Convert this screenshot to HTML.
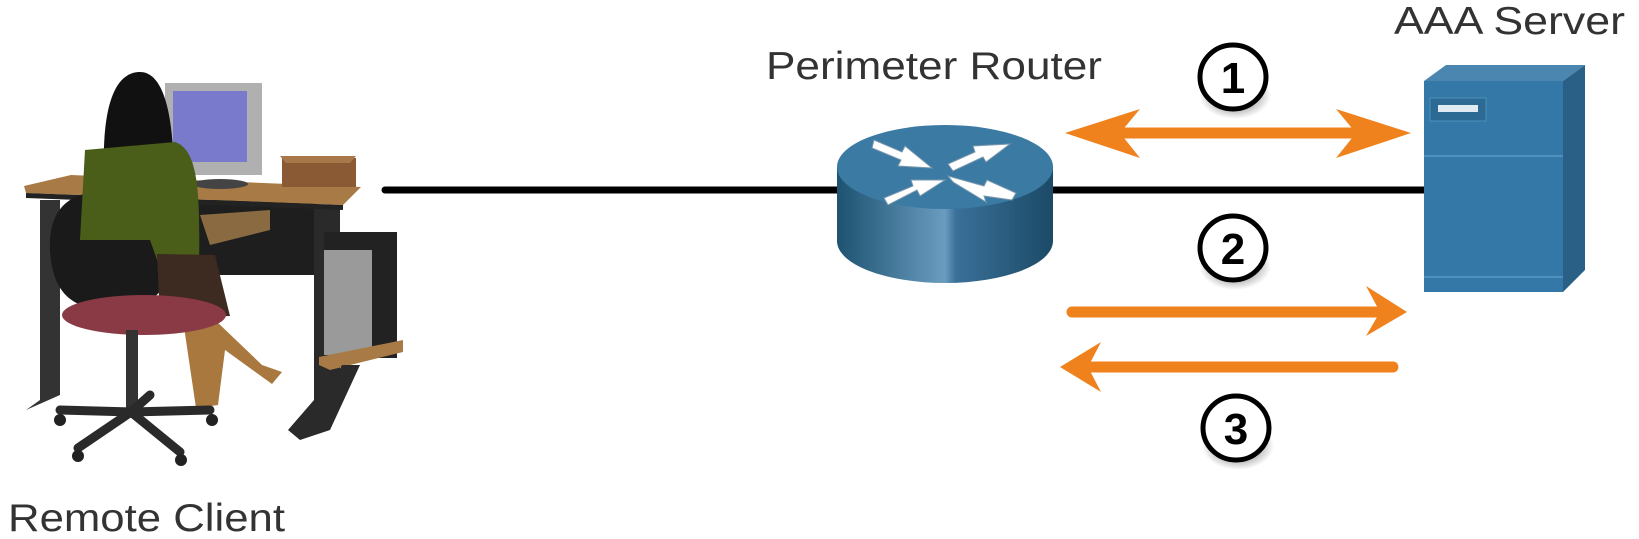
<!DOCTYPE html>
<html><head><meta charset="utf-8"><style>
html,body{margin:0;padding:0;background:#fff;}
svg{display:block;}
text{font-family:"Liberation Sans",sans-serif;fill:#333;}
</style></head><body>
<svg width="1639" height="539" viewBox="0 0 1639 539" xmlns="http://www.w3.org/2000/svg">
<defs>
<linearGradient id="rs" x1="0" x2="1" y1="0" y2="0">
<stop offset="0" stop-color="#1d5270"/><stop offset="0.5" stop-color="#6a9cc0"/><stop offset="0.55" stop-color="#3a7099"/><stop offset="1" stop-color="#1b4a66"/>
</linearGradient>
<radialGradient id="sh" cx="0.5" cy="0.5" r="0.5"><stop offset="0" stop-color="#000" stop-opacity="0.7"/><stop offset="1" stop-color="#000" stop-opacity="0"/></radialGradient>
</defs>
<!-- cables -->
<line x1="385" y1="190" x2="840" y2="190" stroke="#000" stroke-width="7" stroke-linecap="round"/>
<line x1="1050" y1="190" x2="1425" y2="190" stroke="#000" stroke-width="7"/>

<!-- person/desk illustration -->
<polygon points="26,410 60,395 60,200 40,200 40,400" fill="#333"/>
<rect x="188" y="200" width="130" height="75" fill="#1e1e1e"/>
<polygon points="314,206 340,206 340,400 300,440 288,430 314,400" fill="#2a2a2a"/>
<polygon points="24,186 71,175 361,187 343,205 26,193" fill="#a87a45"/>
<polygon points="26,193 343,205 343,210 26,198" fill="#222"/>
<rect x="165" y="83" width="97" height="92" fill="#b0b0b0"/>
<rect x="173" y="91" width="74" height="71" fill="#7a7acc"/>
<ellipse cx="220" cy="184" rx="28" ry="5" fill="#444"/>
<polygon points="282,158 356,158 356,187 282,187" fill="#8a5a35"/>
<polygon points="280,156 356,156 350,163 286,163" fill="#a8784a"/>
<polygon points="200,215 270,210 270,230 210,245" fill="#8a6a40"/>
<rect x="324" y="232" width="73" height="126" fill="#222"/>
<rect x="324" y="250" width="48" height="105" fill="#9a9a9a"/>
<polygon points="319,357 403,340 403,352 330,370 319,365" fill="#a87a45"/>
<polygon points="342,365 360,365 330,430 300,440" fill="#2a2a2a"/>
<path d="M50,250 C48,200 80,190 110,192 C150,194 172,215 172,255 C172,290 150,310 110,310 C70,310 52,290 50,250 Z" fill="#1a1a1a"/>
<path d="M105,192 C100,120 110,72 140,72 C172,72 175,150 173,192 Z" fill="#111"/>
<path d="M85,150 L175,142 C200,150 200,200 199,268 L160,268 L150,240 L80,240 Z" fill="#4a5e1a"/>
<path d="M157,254 L215,255 L230,316 L160,318 Z" fill="#3d2a20"/>
<polygon points="183,320 215,320 262,365 282,372 272,384 225,350 218,405 196,408" fill="#a8783f"/>
<ellipse cx="144" cy="315" rx="82" ry="20" fill="#8a3a44"/>
<rect x="126" y="330" width="12" height="80" fill="#333"/>
<g stroke="#2a2a2a" stroke-width="9" stroke-linecap="round">
<line x1="131" y1="412" x2="60" y2="410"/><line x1="131" y1="412" x2="78" y2="448"/>
<line x1="131" y1="412" x2="180" y2="452"/><line x1="131" y1="412" x2="210" y2="410"/><line x1="131" y1="412" x2="150" y2="395"/>
</g>
<g fill="#222"><circle cx="60" cy="420" r="6"/><circle cx="78" cy="456" r="6"/><circle cx="181" cy="460" r="6"/><circle cx="212" cy="420" r="6"/></g>

<!-- router -->
<path d="M837,167 L837,241 A108,42 0 0 0 1053,241 L1053,167 Z" fill="url(#rs)"/>
<ellipse cx="945" cy="167" rx="108" ry="42" fill="#3a7aa3"/>
<g fill="#fff" stroke="#7a98ae" stroke-width="1">
<polygon points="874,140 902,152 905,146 932,168 898,166 901,160 872,148"/>
<polygon points="948,164 975,152 973,146 1010,144 986,162 983,157 953,171"/>
<polygon points="1012,200 984,196 986,202 953,182 948,176 984,186 987,180 1016,193"/>
<polygon points="884,198 913,186 911,180 945,180 920,196 917,190 888,205"/>
</g>

<!-- server -->
<polygon points="1424,81 1446,65 1585,65 1563,81" fill="#4a86b0"/>
<polygon points="1563,81 1585,65 1585,270 1563,292" fill="#2a5f86"/>
<rect x="1424" y="81" width="139" height="211" fill="#3378a6"/>
<line x1="1424" y1="156" x2="1563" y2="156" stroke="#4f91bd" stroke-width="2"/>
<line x1="1424" y1="277" x2="1563" y2="277" stroke="#4f91bd" stroke-width="2"/>
<rect x="1430" y="98" width="56" height="23" fill="#2c6a94" stroke="#4d8fbb"/>
<rect x="1438" y="105" width="40" height="7" fill="#dfeaf2"/>

<!-- orange arrows -->
<g fill="#f0821e" stroke="#f0821e">
<line x1="1115" y1="133" x2="1362" y2="133" stroke-width="11"/>
<polygon points="1065,133 1140,109 1120,133 1140,158" stroke="none"/>
<polygon points="1411,133 1336,109 1356,133 1336,158" stroke="none"/>
<line x1="1072" y1="312" x2="1385" y2="312" stroke-width="11" stroke-linecap="round"/>
<polygon points="1407,312 1366,286 1380,312 1366,336" stroke="none"/>
<line x1="1083" y1="367" x2="1393" y2="367" stroke-width="11" stroke-linecap="round"/>
<polygon points="1060,367 1101,342 1088,367 1101,392" stroke="none"/>
</g>

<!-- number circles -->
<g>
<ellipse cx="1235" cy="95" rx="36" ry="24" fill="url(#sh)"/>
<ellipse cx="1233" cy="77" rx="33" ry="32" fill="#fff" stroke="#000" stroke-width="5"/>
<text x="1233" y="93" text-anchor="middle" font-size="44" font-weight="bold" style="fill:#000">1</text>
<ellipse cx="1235" cy="266" rx="36" ry="24" fill="url(#sh)"/>
<ellipse cx="1233" cy="248" rx="33" ry="32" fill="#fff" stroke="#000" stroke-width="5"/>
<text x="1233" y="264" text-anchor="middle" font-size="44" font-weight="bold" style="fill:#000">2</text>
<ellipse cx="1238" cy="446" rx="36" ry="24" fill="url(#sh)"/>
<ellipse cx="1236" cy="428" rx="33" ry="32" fill="#fff" stroke="#000" stroke-width="5"/>
<text x="1236" y="444" text-anchor="middle" font-size="44" font-weight="bold" style="fill:#000">3</text>
</g>

<!-- labels -->
<text x="766" y="79" font-size="39" textLength="336" lengthAdjust="spacingAndGlyphs">Perimeter Router</text>
<text x="1394" y="34" font-size="39" textLength="231" lengthAdjust="spacingAndGlyphs">AAA Server</text>
<text x="8" y="531" font-size="39" textLength="277" lengthAdjust="spacingAndGlyphs">Remote Client</text>
</svg>
</body></html>
